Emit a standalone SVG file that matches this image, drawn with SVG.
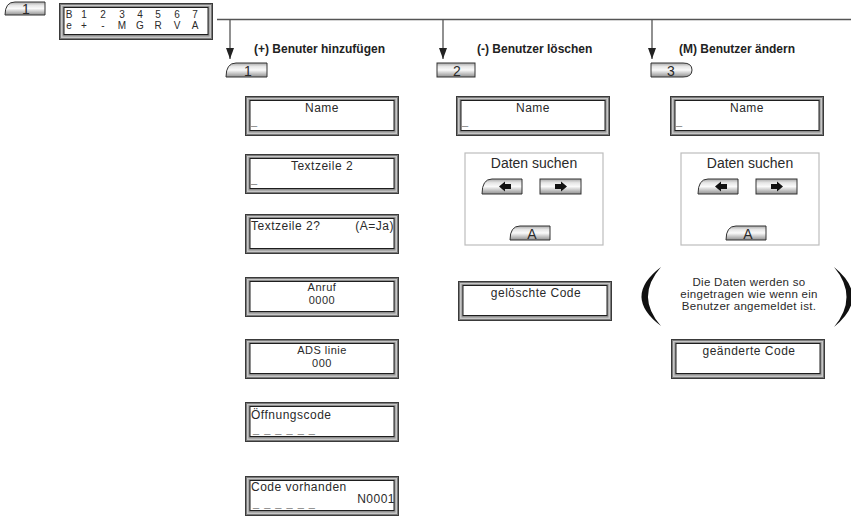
<svg xmlns="http://www.w3.org/2000/svg" xmlns:xlink="http://www.w3.org/1999/xlink" width="851" height="520" viewBox="0 0 851 520">
<style>
text{font-family:"Liberation Sans",Arial,sans-serif;fill:#2a2a2a}
.t{font-size:12px;letter-spacing:0.5px}
.t2{font-size:11px;letter-spacing:0.5px;text-anchor:middle}
.s{font-size:10px;text-anchor:middle}
.c{text-anchor:middle}
.r{text-anchor:end}
.h{font-size:12px;font-weight:bold;fill:#222}
.k{font-size:14px;text-anchor:middle}
.cur{font-size:11px;fill:#777}
.key{fill:url(#kg);stroke:#333;stroke-width:1}
.panel{fill:#fff;stroke:#bdbdbd;stroke-width:1.2}
.conn{stroke:#555;stroke-width:1.3;fill:none}
</style>
<defs>
<linearGradient id="kg" x1="0" y1="0" x2="0" y2="1">
<stop offset="0" stop-color="#a8a8a8"/>
<stop offset="0.25" stop-color="#e6e6e6"/>
<stop offset="0.5" stop-color="#fafafa"/>
<stop offset="1" stop-color="#909090"/>
</linearGradient>
<marker id="ah" markerUnits="userSpaceOnUse" markerWidth="11" markerHeight="8" refX="11" refY="4" orient="auto">
<path d="M0,0 L11,4 L0,8 Z" fill="#222"/>
</marker>
<g id="frame">
<rect x="0" y="0" width="154" height="40" fill="#3a3a3a"/>
<rect x="1" y="1" width="152" height="38" fill="#7a7a7a"/>
<rect x="2" y="2" width="150" height="36" fill="#c6c6c6"/>
<rect x="3.5" y="3" width="147" height="33.5" fill="#8e8e8e"/>
<rect x="5" y="4.5" width="144" height="30" fill="#fff" stroke="#1e1e1e" stroke-width="1"/>
</g>
<path id="larrow" d="M-6,0 L0,-5 L0,-2.5 L6,-2.5 L6,2.5 L0,2.5 L0,5 Z" fill="#111"/>
</defs>

<g id="connectors">
<path class="conn" d="M217,19.5 H851"/>
<path class="conn" d="M230,19.5 V59" marker-end="url(#ah)"/>
<path class="conn" d="M443,19.5 V59" marker-end="url(#ah)"/>
<path class="conn" d="M652,19.5 V59" marker-end="url(#ah)"/>
</g>

<g id="key-top">
<path class="key" d="M15,2 H45 V15 H5 Q5,2 15,2 Z"/>
<text class="k" x="26" y="14">1</text>
</g>

<g id="lcd-top">
<rect x="59" y="3" width="154" height="37" fill="#3a3a3a"/>
<rect x="60" y="4" width="152" height="35" fill="#7a7a7a"/>
<rect x="61" y="5" width="150" height="33" fill="#c6c6c6"/>
<rect x="62.5" y="6" width="147" height="30.5" fill="#8e8e8e"/>
<rect x="64" y="7.5" width="144" height="27" fill="#fff" stroke="#1e1e1e" stroke-width="1"/>
<text class="s" x="69" y="17.5">B</text><text class="s" x="84" y="17.5">1</text><text class="s" x="103" y="17.5">2</text><text class="s" x="122" y="17.5">3</text><text class="s" x="140" y="17.5">4</text><text class="s" x="158" y="17.5">5</text><text class="s" x="177" y="17.5">6</text><text class="s" x="195" y="17.5">7</text>
<text class="s" x="69" y="29">e</text><text class="s" x="84" y="29">+</text><text class="s" x="103" y="29">-</text><text class="s" x="122" y="29">M</text><text class="s" x="140" y="29">G</text><text class="s" x="158" y="29">R</text><text class="s" x="177" y="29">V</text><text class="s" x="195" y="29">A</text>
</g>

<g id="col1-head">
<path class="key" d="M236,63 H267 V77 H226 Q226,63 236,63 Z"/>
<text class="k" x="248" y="75.5">1</text>
<text class="h" x="254" y="53">(+) Benuter hinzufügen</text>
</g>
<g id="col2-head">
<rect class="key" x="437" y="63" width="38" height="14"/>
<text class="k" x="457" y="75.5">2</text>
<text class="h" x="477" y="53">(-) Benutzer löschen</text>
</g>
<g id="col3-head">
<path class="key" d="M651,63 H683 Q692,63 692,70 Q692,77 683,77 H651 Z"/>
<text class="k" x="671" y="75.5">3</text>
<text class="h" x="679" y="53">(M) Benutzer ändern</text>
</g>

<g id="c1-name">
<use xlink:href="#frame" x="245" y="96"/>
<text class="t c" x="322" y="112">Name</text>
<text class="cur" x="251" y="125">_</text>
</g>
<g id="c1-textzeile">
<use xlink:href="#frame" x="245" y="154"/>
<text class="t c" x="322" y="170">Textzeile 2</text>
<text class="cur" x="251" y="183">_</text>
</g>
<g id="c1-textzeile-q">
<use xlink:href="#frame" x="245" y="214"/>
<text class="t" x="251" y="230">Textzeile 2?</text>
<text class="t r" x="394" y="230">(A=Ja)</text>
</g>
<g id="c1-anruf">
<use xlink:href="#frame" x="245" y="277"/>
<text class="t2" x="322" y="291">Anruf</text>
<text class="t2" x="322" y="304">0000</text>
</g>
<g id="c1-ads">
<use xlink:href="#frame" x="245" y="339"/>
<text class="t2" x="322" y="354">ADS linie</text>
<text class="t2" x="322" y="367">000</text>
</g>
<g id="c1-oeffnung">
<use xlink:href="#frame" x="245" y="402"/>
<text class="t" x="251" y="418.5">Öffnungscode</text>
<text class="cur" x="253" y="433" letter-spacing="1">_ _ _ _ _ _</text>
</g>
<g id="c1-code">
<use xlink:href="#frame" x="245" y="476"/>
<text class="t" x="251" y="491">Code vorhanden</text>
<text class="t r" x="395" y="503">N0001</text>
<text class="cur" x="253" y="507" letter-spacing="1">_ _ _ _ _ _</text>
</g>

<g id="c2-name">
<use xlink:href="#frame" x="456" y="96"/>
<text class="t c" x="533" y="112">Name</text>
<text class="cur" x="462" y="125">_</text>
</g>
<g id="c2-search">
<rect class="panel" x="465" y="153" width="138" height="92"/>
<text x="534" y="168" font-size="14" text-anchor="middle">Daten suchen</text>
<path class="key" d="M492,179 H522 V194 H482 Q482,179 492,179 Z"/>
<use xlink:href="#larrow" x="505" y="186.5"/>
<rect class="key" x="540" y="179" width="41" height="15"/>
<use xlink:href="#larrow" transform="translate(561,186.5) scale(-1,1)"/>
<path class="key" d="M520,226 H550 V240 H510 Q510,226 520,226 Z"/>
<text class="k" x="532" y="238.5">A</text>
</g>
<g id="c2-geloescht">
<use xlink:href="#frame" x="458" y="281"/>
<text class="t c" x="536" y="297">gelöschte Code</text>
</g>

<g id="c3-name">
<use xlink:href="#frame" x="670" y="96"/>
<text class="t c" x="747" y="112">Name</text>
<text class="cur" x="676" y="125">_</text>
</g>
<g id="c3-search">
<rect class="panel" x="681" y="153" width="138" height="92"/>
<text x="750" y="168" font-size="14" text-anchor="middle">Daten suchen</text>
<path class="key" d="M708,179 H738 V194 H698 Q698,179 708,179 Z"/>
<use xlink:href="#larrow" x="721" y="186.5"/>
<rect class="key" x="756" y="179" width="41" height="15"/>
<use xlink:href="#larrow" transform="translate(777,186.5) scale(-1,1)"/>
<path class="key" d="M736,226 H766 V240 H726 Q726,226 736,226 Z"/>
<text class="k" x="748" y="238.5">A</text>
</g>
<g id="c3-note">
<path d="M661,267 Q622,296.5 661,326 Q635,296.5 661,267 Z" fill="#111"/>
<path d="M834,267 Q871,297 834,327 Q859,297 834,267 Z" fill="#111"/>
<text class="c" font-size="11.5" letter-spacing="0.3" x="749" y="286">Die Daten werden so</text>
<text class="c" font-size="11.5" letter-spacing="0.3" x="749" y="298">eingetragen wie wenn ein</text>
<text class="c" font-size="11.5" letter-spacing="0.3" x="749" y="310">Benutzer angemeldet ist.</text>
</g>
<g id="c3-geaendert">
<use xlink:href="#frame" x="671" y="339"/>
<text class="t c" x="749" y="355">geänderte Code</text>
</g>
</svg>
